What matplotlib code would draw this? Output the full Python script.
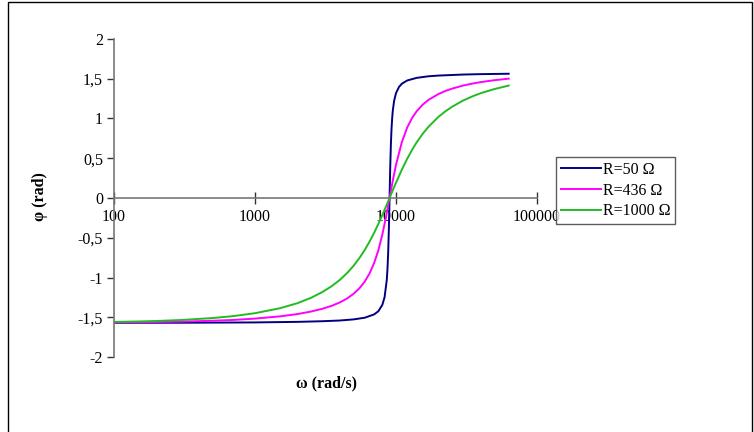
import numpy as np
import matplotlib
matplotlib.use("Agg")
import matplotlib.pyplot as plt
from matplotlib.patches import Rectangle

plt.rcParams['font.family'] = ['Liberation Serif', 'DejaVu Serif']

# values (omega in rad/s, phi in rad)
w_1000 = [100, 150, 200, 300, 500, 700, 1000, 1500, 2000, 2500, 3000, 3500, 4000, 4500,
          5000, 5500, 6000, 6500, 7000, 7500, 8000, 8500, 9000, 9500, 10000, 11000,
          12000, 13000, 14000, 15500, 17000, 20000, 22500, 25000, 30000, 35000, 40000,
          50000, 63000]
phi_1000 = [-1.559, -1.553, -1.547, -1.535, -1.510, -1.486, -1.449, -1.387, -1.323, -1.255,
            -1.183, -1.109, -1.029, -0.944, -0.853, -0.756, -0.654, -0.547, -0.437,
            -0.325, -0.214, -0.105, 0.0, 0.099, 0.192, 0.356, 0.493, 0.605, 0.699, 0.810,
            0.896, 1.021, 1.093, 1.148, 1.227, 1.280, 1.319, 1.371, 1.414]

w_436 = w_1000
phi_436 = [-1.566, -1.563, -1.560, -1.555, -1.544, -1.534, -1.517, -1.489, -1.460, -1.428,
           -1.394, -1.356, -1.313, -1.264, -1.205, -1.136, -1.052, -0.947, -0.817,
           -0.656, -0.460, -0.236, 0.0, 0.223, 0.417, 0.703, 0.886, 1.006, 1.090, 1.176,
           1.234, 1.308, 1.348, 1.376, 1.415, 1.440, 1.458, 1.482, 1.501]

w_50 = [100, 300, 1000, 2000, 3000, 4000, 5000, 6000, 7000, 7500, 8000, 8300, 8600, 8700,
        8800, 8900, 9000, 9100, 9200, 9300, 9400, 9500, 9700, 10000, 10500, 11000, 12000,
        14000, 17000, 20000, 30000, 40000, 63000]
phi_50 = [-1.570, -1.569, -1.565, -1.558, -1.550, -1.541, -1.527, -1.506, -1.464, -1.424,
          -1.344, -1.247, -1.032, -0.895, -0.691, -0.390, 0.0, 0.387, 0.680, 0.879, 1.012,
          1.105, 1.223, 1.319, 1.397, 1.437, 1.478, 1.511, 1.531, 1.540, 1.553, 1.558,
          1.563]

y_ticks = [-2, -1.5, -1, -0.5, 0, 0.5, 1, 1.5, 2]
y_labels = ['-2', '-1,5', '-1', '-0,5', '0', '0,5', '1', '1,5', '2']
x_ticks = [100, 1000, 10000, 100000]
x_labels = ['100', '1000', '10000', '100000']

W, H = 754, 432
fig = plt.figure(figsize=(W / 100, H / 100), dpi=100)
ax = fig.add_axes([114 / W, (H - 357) / H, (537 - 114) / W, (357 - 39) / H])

ax.plot(w_50, phi_50, color='#000080', lw=1.4, label='R=50 Ω')
ax.plot(w_436, phi_436, color='#FF00FF', lw=1.4, label='R=436 Ω')
ax.plot(w_1000, phi_1000, color='#22BB22', lw=1.4, label='R=1000 Ω')

ax.set_xscale('log')
ax.set_xlim(100, 100000)
ax.set_ylim(-2, 2)

ax.spines['top'].set_visible(False)
ax.spines['right'].set_visible(False)
ax.spines['bottom'].set_position(('data', 0))
for s in ('left', 'bottom'):
    ax.spines[s].set_color('#777777')
    ax.spines[s].set_linewidth(1.2)

ax.set_yticks(y_ticks)
ax.set_yticklabels(y_labels)
ax.set_xticks(x_ticks)
ax.set_xticklabels(x_labels)
ax.xaxis.set_minor_locator(matplotlib.ticker.NullLocator())
ax.tick_params(axis='y', direction='out', length=5, width=1, color='#333333',
               labelsize=11.5, pad=3)
ax.tick_params(axis='x', direction='inout', length=8, width=1, color='#333333',
               labelsize=11.5, pad=4)

fig.text(40 / W, 1 - 197 / H, 'φ (rad)', rotation=90, ha='center', va='center',
         fontsize=11.5, fontweight='bold')
fig.text(326 / W, 1 - 383 / H, 'ω (rad/s)', ha='center', va='center',
         fontsize=11.5, fontweight='bold')

leg = ax.legend(loc='upper left', bbox_to_anchor=(556 / W, 1 - 157 / H),
                bbox_transform=fig.transFigure, frameon=True, fancybox=False,
                fontsize=11.5, handlelength=2.5, handletextpad=0.12,
                labelspacing=0.3, borderpad=0.3, borderaxespad=0)
leg.get_frame().set_edgecolor('#333333')
leg.get_frame().set_linewidth(1.0)

fig.patches.append(Rectangle((8 / W, -0.1), (752 - 8) / W, 1.1 - 2 / H,
                             transform=fig.transFigure, fill=False,
                             edgecolor='black', lw=1.0))

fig.savefig('out.png', dpi=100)
